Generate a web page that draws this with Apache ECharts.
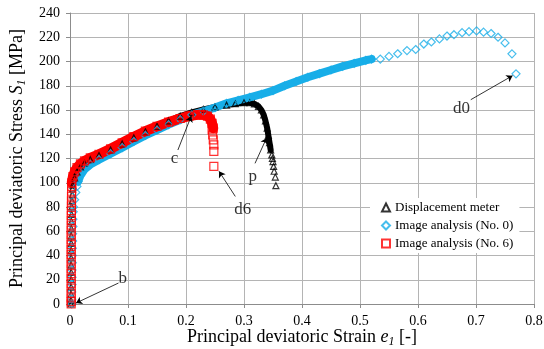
<!DOCTYPE html>
<html>
<head>
<meta charset="utf-8">
<script src="https://cdn.jsdelivr.net/npm/echarts@6/dist/echarts.min.js"></script>
<style>
  html, body { margin: 0; padding: 0; background: #fff; }
  #chart { width: 544px; height: 349px; }
</style>
</head>
<body>
<div id="chart"></div>
<script>
// Displacement meter (black triangles)
const blackRise = [[0.0015,0],[0.0015,3],[0.0018,8],[0.0018,14],[0.002,20],[0.002,26],[0.002,32],[0.002,38],[0.0022,44],[0.0022,50],[0.0022,56],[0.0025,62],[0.0025,68],[0.0028,74],[0.003,80],[0.0035,85],[0.004,90],[0.0045,95]];
const blackCurve = [[0.005,98],[0.008,104],[0.012,109],[0.018,113],[0.025,116],[0.035,119],[0.05,122.5],[0.07,127],[0.09,132],[0.11,137],[0.13,142],[0.15,146.5],[0.17,151],[0.19,155],[0.21,158],[0.23,160.5],[0.25,162.5],[0.27,164],[0.285,165.2],[0.3,166],[0.31,166],[0.318,165],[0.325,163],[0.33,160],[0.334,156],[0.337,151],[0.34,145],[0.342,139],[0.344,133],[0.346,127]];
const blackTail = [[0.348,123],[0.349,120],[0.35,117.5],[0.351,113.5],[0.352,109.5],[0.354,104.7],[0.355,97.6]];

// Image analysis (No. 0) (blue diamonds)
const blueRise = [[0.003,0],[0.003,4],[0.003,10],[0.0035,16],[0.0035,22],[0.0035,28],[0.004,34],[0.004,40],[0.004,46],[0.0045,52],[0.0045,58],[0.005,64],[0.005,70],[0.0055,76],[0.006,80],[0.008,86],[0.01,92],[0.012,97]];
const blueCurve = [[0.014,101],[0.018,106],[0.025,111],[0.035,115],[0.05,119],[0.07,124],[0.09,129],[0.11,134],[0.13,139],[0.15,143.5],[0.17,148],[0.19,152],[0.21,156],[0.23,159],[0.25,162],[0.27,165.5],[0.29,168],[0.31,170.5],[0.33,173],[0.35,176],[0.37,180],[0.39,183.5],[0.41,187],[0.43,190],[0.45,193],[0.47,196],[0.49,198.5],[0.51,201],[0.52,202]];
const blueTail = [[0.535,202],[0.55,204.2],[0.565,206.4],[0.581,209],[0.596,209.9],[0.61,214.4],[0.623,216.1],[0.637,218.6],[0.65,221],[0.662,222.1],[0.676,223.8],[0.688,224.6],[0.701,225.2],[0.713,224.2],[0.726,223.1],[0.738,220],[0.75,215.3],[0.762,206.3],[0.769,189.8]];

// Image analysis (No. 6) (red squares)
const redRise = [[0.002,0],[0.002,2],[0.002,5],[0.002,9],[0.002,13],[0.002,17],[0.002,21],[0.002,25],[0.002,29],[0.002,33],[0.002,37],[0.002,41],[0.002,45],[0.002,49],[0.002,53],[0.002,57],[0.002,61],[0.0022,65],[0.0022,69],[0.0022,73],[0.0024,77],[0.0024,81],[0.0026,85],[0.0026,89],[0.0028,93],[0.003,97]];
const redCurve = [[0.003,100],[0.005,105],[0.008,109],[0.012,112.5],[0.018,115.5],[0.025,118],[0.035,120.5],[0.05,123.5],[0.07,128],[0.09,133],[0.11,138],[0.13,142.5],[0.15,146.5],[0.17,150],[0.19,153],[0.205,155],[0.22,156],[0.23,156],[0.237,155],[0.242,152.5],[0.245,149],[0.247,145]];
const redTail = [[0.245,143.6],[0.246,139.4],[0.247,135.3],[0.248,131.2],[0.248,125.9],[0.248,113.5]];

const xTicks = [0, 0.1, 0.2, 0.3, 0.4, 0.5, 0.6, 0.7, 0.8];
const yTicks = [0, 20, 40, 60, 80, 100, 120, 140, 160, 180, 200, 220, 240];

// annotation labels and arrows (data coordinates)
const noteLabels = [['b', 0.091, 20.6], ['c', 0.18, 120], ['p', 0.315, 105], ['d6', 0.298, 77.6], ['d0', 0.675, 161.6]];
const noteArrows = [[0.0836, 17.3, 0.0104, 0.8], [0.186, 127, 0.209, 155], [0.319, 116, 0.339, 137], [0.285, 88.7, 0.257, 109.4], [0.691, 168.5, 0.763, 188.3]];

const serif = "'Liberation Serif', 'Times New Roman', serif";
const gridColor = '#b4b4b4';
const black = '#000000', blue = '#18aee8', red = '#ff0000';

const chart = echarts.init(document.getElementById('chart'));

function band(data, color, width) {
  return {
    type: 'line', name: 'band', data: data, symbol: 'none', silent: true,
    lineStyle: {color: color, width: width, cap: 'round', join: 'round'}, z: 2
  };
}
function dots(name, data, symbol, size, color) {
  return {
    type: 'scatter', name: name, data: data, symbol: symbol, symbolSize: size,
    itemStyle: {color: 'rgba(0,0,0,0)', borderColor: color, borderWidth: 1.2}, z: 2
  };
}

const nameRich = {
  t: {fontFamily: serif, fontSize: 18, color: '#000', lineHeight: 22},
  i: {fontFamily: serif, fontSize: 18, fontStyle: 'italic', color: '#000', lineHeight: 22},
  s: {fontFamily: serif, fontSize: 12, fontStyle: 'italic', color: '#000', lineHeight: 13, verticalAlign: 'bottom'}
};

chart.setOption({
  animation: false,
  grid: {left: 70, right: 10, top: 13, bottom: 45, containLabel: false, outerBoundsMode: 'none'},
  legend: {
    data: ['Displacement meter', 'Image analysis (No. 0)', 'Image analysis (No. 6)'],
    orient: 'vertical', left: 370, top: 198,
    padding: [3, 6, 3, 11], itemGap: 5,
    itemWidth: 8, itemHeight: 8,
    backgroundColor: '#fff',
    textStyle: {fontFamily: serif, fontSize: 13, color: '#000'}
  },
  xAxis: {
    type: 'value', min: 0, max: 0.8, interval: 0.1,
    name: '{t|Principal deviatoric Strain }{i|e}{s|1}{t| [-]}',
    nameLocation: 'middle', nameGap: 22, nameMoveOverlap: false,
    nameTextStyle: {rich: nameRich},
    axisLine: {lineStyle: {color: '#8c8c8c'}},
    axisTick: {show: true, length: 4, lineStyle: {color: '#8c8c8c'}},
    axisLabel: {fontFamily: serif, fontSize: 14, color: '#000', margin: 10,
      formatter: v => v === 0 ? '0' : v.toFixed(1)},
    splitLine: {show: true, lineStyle: {color: gridColor}}
  },
  yAxis: {
    type: 'value', min: 0, max: 240, interval: 20,
    name: '{t|Principal deviatoric Stress }{i|S}{s|1}{t| [MPa]}',
    nameLocation: 'middle', nameGap: 42, nameRotate: 90, nameMoveOverlap: false,
    nameTextStyle: {rich: nameRich},
    axisLine: {show: true, lineStyle: {color: '#8c8c8c'}},
    axisTick: {show: true, length: 4, lineStyle: {color: '#8c8c8c'}},
    axisLabel: {fontFamily: serif, fontSize: 14, color: '#000', margin: 10},
    splitLine: {show: true, lineStyle: {color: gridColor}}
  },
  series: [
    band(blackCurve, black, 6),
    dots('Displacement meter', blackRise.concat(blackCurve, blackTail), 'triangle', 6, black),
    band(blueCurve, blue, 8),
    dots('Image analysis (No. 0)', blueRise.concat(blueCurve, blueTail), 'diamond', 8, blue),
    band(redCurve, red, 10),
    dots('Image analysis (No. 6)', redRise.concat(redCurve, redTail), 'rect', 8, red),
    {
      type: 'scatter', name: 'notes', silent: true, z: 5,
      data: noteLabels.map(n => [n[1], n[2], n[0]]),
      symbolSize: 1, itemStyle: {color: 'rgba(0,0,0,0)'},
      label: {show: true, position: 'inside', formatter: p => p.value[2],
        fontFamily: serif, fontSize: 17, color: '#000'},
      markLine: {
        silent: true, symbol: ['none', 'arrow'], symbolSize: 6,
        label: {show: false},
        lineStyle: {color: '#000', width: 0.8, type: 'solid'},
        data: noteArrows.map(a => [{coord: [a[0], a[1]]}, {coord: [a[2], a[3]]}])
      }
    }
  ]
});
</script>
</body>
</html>
